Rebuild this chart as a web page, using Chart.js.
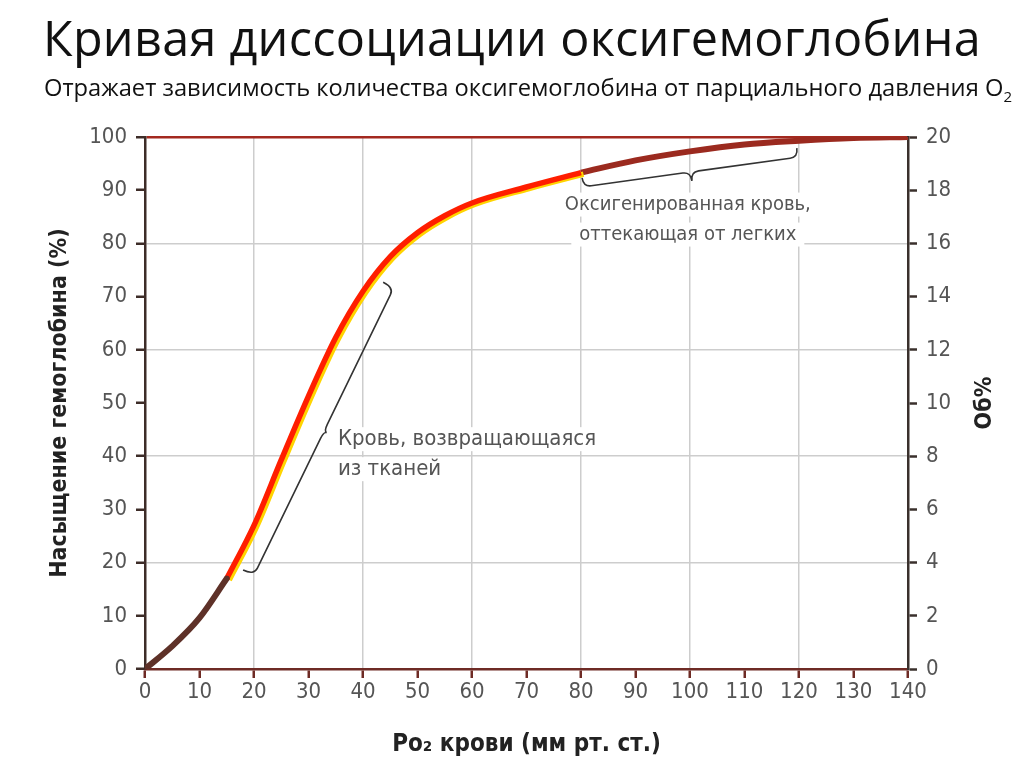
<!DOCTYPE html>
<html lang="ru">
<head>
<meta charset="utf-8">
<title>Кривая диссоциации оксигемоглобина</title>
<script src="https://cdn.jsdelivr.net/npm/chart.js@4/dist/chart.umd.min.js"></script>
<style>
  html, body { margin: 0; padding: 0; background: #fff; }
  .wrap { position: relative; width: 1024px; height: 767px; overflow: hidden; }
  .titulo { position: absolute; left: 0; width: 1024px; text-align: center; color: #111;
            font-family: 'Open Sans', 'Noto Sans', sans-serif; white-space: nowrap; }
  .t1 { top: 7px; font-size: 48.5px; line-height: 60px; letter-spacing: 0.3px; }
  .t2 { top: 72px; font-size: 23.7px; line-height: 30px; left: 16px; }
  canvas { position: absolute; left: 0; top: 0; }
</style>
</head>
<body>
<div class="wrap">
  <canvas id="graficaCurva" width="1024" height="767"></canvas>
  <div class="titulo t1">Кривая диссоциации оксигемоглобина</div>
  <div class="titulo t2">Отражает зависимость количества оксигемоглобина от парциального давления О<sub style="font-size:15px">2</sub></div>
</div>
<script>
/* ── Datos de la curva ── */
const po2        = [0, 5, 10, 15, 20, 25, 30, 35, 40, 45, 50, 55, 60, 70, 80, 90, 100, 110, 120, 130, 140];
const saturacion = [0, 4.3, 9.6, 17, 27, 39.3, 51.3, 62.3, 71, 77.5, 82, 85.2, 87.6, 90.6, 93.3, 95.6, 97.3, 98.6, 99.3, 99.8, 100];

const ticksX  = [0, 10, 20, 30, 40, 50, 60, 70, 80, 90, 100, 110, 120, 130, 140];
const ticksY  = [0, 10, 20, 30, 40, 50, 60, 70, 80, 90, 100];
const ticksY2 = [0, 2, 4, 6, 8, 10, 12, 14, 16, 18, 20];

// tramos de color de la curva
const corteVenoso  = 15;
const corteArteria = 80;

// anotaciones: llaves y textos (en coordenadas de datos)
const llaves = [
    { desde: [18.0, 18.6], hasta: [43.7, 72.7], brazo: 12, punta: 15 },
    { desde: [80.2, 92.3], hasta: [119.6, 97.9], brazo: 9, punta: 18 }
];
const textos = [
    { x: 35.4, y: 43.2, lineas: ['Кровь, возвращающаяся', 'из тканей'], align: 'left', tam: 22 },
    { x: 99.6, y: 87.3, lineas: ['Оксигенированная кровь,', 'оттекающая от легких'], align: 'center', tam: 20 }
];

const FUENTE = "'Liberation Sans Narrow', 'DejaVu Sans Condensed', 'Roboto', sans-serif";

document.addEventListener('DOMContentLoaded', function () {
    inicializarGrafica();
});

function puntos(desde, hasta) {
    const out = [];
    po2.forEach((x, i) => {
        if (x >= desde && x <= hasta) out.push({ x: x, y: saturacion[i] });
    });
    return out;
}

/* ── Sombra amarilla bajo el tramo rojo ── */
const pluginBrillo = {
    id: 'brillo',
    beforeDatasetDraw(chart, args) {
        if (!chart.data.datasets[args.index].brillo) return;
        const c = chart.ctx;
        c.save();
        c.shadowColor = '#ffd400';
        c.shadowOffsetX = 2.5;
        c.shadowOffsetY = 1.5;
        c.shadowBlur = 0;
    },
    afterDatasetDraw(chart, args) {
        if (chart.data.datasets[args.index].brillo) chart.ctx.restore();
    }
};

/* ── Llaves, textos y título del eje derecho ── */
const pluginNotas = {
    id: 'notas',
    afterDatasetsDraw(chart) {
        const c = chart.ctx;
        const sx = chart.scales.x, sy = chart.scales.y;
        c.save();
        c.strokeStyle = '#333';
        c.lineWidth = 1.6;
        llaves.forEach(l => {
            const ax = sx.getPixelForValue(l.desde[0]), ay = sy.getPixelForValue(l.desde[1]);
            const bx = sx.getPixelForValue(l.hasta[0]), by = sy.getPixelForValue(l.hasta[1]);
            const L = Math.hypot(bx - ax, by - ay);
            const ux = (bx - ax) / L, uy = (by - ay) / L;
            const nx = -uy, ny = ux;
            const h = l.brazo, t = l.punta, q = 8;
            const P = (s, d) => [ax + ux * s + nx * d, ay + uy * s + ny * d];
            c.beginPath();
            c.moveTo(...P(0, 0));
            c.quadraticCurveTo(...P(0, h), ...P(q, h));
            c.lineTo(...P(L / 2 - q, h));
            c.quadraticCurveTo(...P(L / 2, h), ...P(L / 2, t));
            c.quadraticCurveTo(...P(L / 2, h), ...P(L / 2 + q, h));
            c.lineTo(...P(L - q, h));
            c.quadraticCurveTo(...P(L, h), ...P(L, 0));
            c.stroke();
        });

        c.textBaseline = 'middle';
        textos.forEach(t => {
            c.font = t.tam + 'px ' + FUENTE;
            const px = sx.getPixelForValue(t.x), py = sy.getPixelForValue(t.y);
            t.lineas.forEach((linea, i) => {
                const w = c.measureText(linea).width;
                const y = py + i * 30;
                const x0 = t.align === 'center' ? px - w / 2 : px;
                c.fillStyle = '#fff';
                c.fillRect(x0 - 8, y - 12, w + 16, 24);
                c.fillStyle = '#555';
                c.textAlign = 'left';
                c.fillText(linea, x0, y);
            });
        });

        // título del eje derecho, leído de abajo hacia arriba
        const area = chart.chartArea;
        c.translate(985, (area.top + area.bottom) / 2);
        c.rotate(-Math.PI / 2);
        c.font = 'bold 23px ' + FUENTE;
        c.fillStyle = '#222';
        c.textAlign = 'center';
        c.fillText('Об%', 0, 0);
        c.restore();
    }
};

/* ── Gráfica ── */
function inicializarGrafica() {
    const canvas = document.getElementById('graficaCurva');
    if (!canvas) return;

    Chart.defaults.font.family = FUENTE;
    Chart.defaults.color = '#555';

    new Chart(canvas, {
        type: 'line',
        data: {
            datasets: [
                {
                    data: puntos(0, corteVenoso),
                    borderColor: '#5e3128',
                    borderWidth: 6,
                    cubicInterpolationMode: 'monotone',
                    pointRadius: 0,
                    borderCapStyle: 'round'
                },
                {
                    data: puntos(corteVenoso, corteArteria),
                    borderColor: '#ff1e00',
                    borderWidth: 5.5,
                    cubicInterpolationMode: 'monotone',
                    pointRadius: 0,
                    brillo: true
                },
                {
                    data: puntos(corteArteria, 140),
                    borderColor: '#9b2a1f',
                    borderWidth: 6,
                    cubicInterpolationMode: 'monotone',
                    pointRadius: 0
                }
            ]
        },
        options: {
            responsive: false,
            animation: false,
            devicePixelRatio: 1,
            layout: { padding: { top: 137, left: 0, right: 0, bottom: 0 } },
            plugins: {
                legend: { display: false },
                tooltip: { enabled: false }
            },
            scales: {
                x: {
                    type: 'linear',
                    min: 0, max: 140,
                    afterBuildTicks: s => { s.ticks = ticksX.map(v => ({ value: v })); },
                    afterFit: s => { s.height = 98; },
                    border: { color: '#6e2b25', width: 2.5 },
                    grid: {
                        color: ctx => (ctx.tick && ctx.tick.value % 20 === 0 && ctx.tick.value > 0 && ctx.tick.value < 140) ? '#cdcdcd' : 'rgba(0,0,0,0)',
                        lineWidth: 1.5,
                        tickColor: '#6e2b25',
                        tickLength: 9,
                        tickWidth: 2.5
                    },
                    ticks: { font: { size: 22 }, color: '#555', padding: 1, maxRotation: 0 },
                    title: {
                        display: true,
                        text: 'Po₂ крови (мм рт. ст.)',
                        color: '#222',
                        font: { size: 24, weight: 'bold' },
                        padding: { top: 0, bottom: 8 }
                    }
                },
                y: {
                    position: 'left',
                    min: 0, max: 100,
                    afterBuildTicks: s => { s.ticks = ticksY.map(v => ({ value: v })); },
                    afterFit: s => { s.width = 145; },
                    border: { color: '#3d2c28', width: 2.5 },
                    grid: {
                        color: ctx => {
                            const v = ctx.tick ? ctx.tick.value : -1;
                            if (v === 100) return '#a3291f';
                            return (v % 20 === 0 && v > 0) ? '#cdcdcd' : 'rgba(0,0,0,0)';
                        },
                        lineWidth: ctx => (ctx.tick && ctx.tick.value === 100) ? 2.5 : 1.5,
                        tickColor: '#3d2c28',
                        tickLength: 9,
                        tickWidth: 2.5
                    },
                    ticks: { font: { size: 22 }, color: '#555', padding: 9 },
                    title: {
                        display: true,
                        text: 'Насыщение гемоглобина (%)',
                        color: '#222',
                        font: { size: 23, weight: 'bold' },
                        padding: { top: 46, bottom: 0 }
                    }
                },
                y2: {
                    position: 'right',
                    min: 0, max: 20,
                    afterBuildTicks: s => { s.ticks = ticksY2.map(v => ({ value: v })); },
                    afterFit: s => { s.width = 116; },
                    border: { color: '#3a302c', width: 2.5 },
                    grid: {
                        drawOnChartArea: false,
                        tickColor: '#3a302c',
                        tickLength: 9,
                        tickWidth: 2.5
                    },
                    ticks: { font: { size: 22 }, color: '#555', padding: 9 },
                    title: { display: false }
                }
            }
        },
        plugins: [pluginBrillo, pluginNotas]
    });
}
</script>
</body>
</html>
